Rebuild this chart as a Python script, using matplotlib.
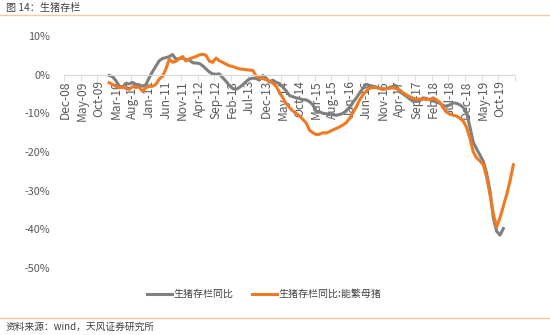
import numpy as np
import matplotlib
matplotlib.use("Agg")
import matplotlib.pyplot as plt
from matplotlib.lines import Line2D

plt.rcParams['font.family'] = ['Noto Sans CJK SC', 'DejaVu Sans']

# monthly axis starts at Dec-08 (index 0); both series start at Jan-10
tick_labels = ['Dec-08', 'May-09', 'Oct-09', 'Mar-10', 'Aug-10', 'Jan-11', 'Jun-11',
               'Nov-11', 'Apr-12', 'Sep-12', 'Feb-13', 'Jul-13', 'Dec-13', 'May-14',
               'Oct-14', 'Mar-15', 'Aug-15', 'Jan-16', 'Jun-16', 'Nov-16', 'Apr-17',
               'Sep-17', 'Feb-18', 'Jul-18', 'Dec-18', 'May-19', 'Oct-19']
n_months = 135
series_start = 13

hog_yoy = [-0.2, -0.5, -1.5, -2.9, -3.3, -2.2, -2.4, -2.0, -2.5, -2.6, -3.0, -2.6,
           -0.8, 0.8, 2.2, 3.6, 4.2, 4.4, 4.7, 5.2, 4.0, 4.2, 4.3, 3.9,
           3.8, 3.1, 3.0, 2.9, 2.3, 1.5, 0.7, 0.2, 0.1, 0.2, -0.8, -1.7,
           -2.8, -3.6, -3.8, -3.3, -2.6, -1.8, -1.1, -0.9, -1.0, -1.4, -0.2, -0.9,
           -1.9, -1.4, -2.0, -2.3, -3.2, -4.2, -5.4, -5.7, -6.0, -6.2, -6.5, -6.5,
           -7.0, -7.8, -9.6, -9.6, -10.0, -10.1, -10.3, -10.4, -10.5, -10.3, -10.0, -9.3,
           -8.4, -7.2, -6.0, -4.7, -3.5, -2.5, -2.8, -3.0, -3.2, -3.5, -3.8, -3.6,
           -3.3, -3.0, -3.0, -4.4, -5.0, -5.6, -6.3, -6.9, -6.9, -6.8, -6.0, -6.2,
           -6.5, -6.8, -7.1, -7.4, -8.0, -8.2, -7.8, -7.3, -7.4, -7.8, -8.5, -9.8,
           -13.5, -17.5, -19.2, -20.8, -22.4, -25.5, -30.0, -37.0, -40.5, -41.5, -39.8]

sow_yoy = [-2.1, -2.5, -3.0, -3.4, -3.0, -3.6, -3.8, -3.1, -3.3, -3.2, -4.3, -3.4,
           -3.0, -3.0, -2.5, -1.1, -0.4, 1.5, 4.0, 3.2, 3.5, 4.1, 4.7, 3.5,
           4.1, 4.4, 4.7, 5.1, 5.3, 5.0, 3.5, 3.2, 4.3, 3.6, 3.2, 2.7,
           2.3, 2.1, 1.8, 1.5, 1.4, 1.3, 1.2, 1.1, -0.3, -0.8, -1.0, -1.3,
           -1.6, -2.2, -3.0, -4.6, -6.0, -7.5, -8.5, -9.4, -10.0, -10.7, -11.6, -12.5,
           -14.4, -15.0, -15.5, -15.4, -15.0, -15.1, -14.7, -14.3, -13.9, -13.5, -13.0, -12.4,
           -11.3, -9.8, -8.3, -6.5, -5.2, -4.2, -3.5, -3.3, -3.4, -3.6, -3.7, -3.6,
           -3.5, -3.4, -3.6, -4.0, -4.7, -5.2, -5.7, -6.1, -6.3, -6.3, -6.3, -6.4,
           -6.4, -6.0, -6.5, -7.2, -8.6, -9.7, -10.2, -10.5, -10.7, -11.3, -12.0, -13.6,
           -16.5, -20.0, -21.5, -22.3, -23.3, -26.5, -31.0, -36.0, -39.4, -37.0, -34.0, -31.0,
           -27.5, -23.3]

fig = plt.figure(figsize=(5.5, 3.35), dpi=100)
ax = fig.add_axes([0.1164, 0.2, 0.8200, 0.6925])

x_hog = np.arange(series_start, series_start + len(hog_yoy))
x_sow = np.arange(series_start, series_start + len(sow_yoy))
ax.plot(x_hog, hog_yoy, color='#7f7f7f', lw=2.2, solid_joinstyle='round', label='生猪存栏同比')
ax.plot(x_sow, sow_yoy, color='#f07a22', lw=2.2, solid_joinstyle='round', label='生猪存栏同比:能繁母猪')

ax.set_xlim(-0.5, n_months - 0.5)
ax.set_ylim(-50, 10)
ax.set_yticks(np.arange(-50, 11, 10))
ax.set_yticklabels([f'{v}%' for v in range(-50, 11, 10)])

# category axis drawn along the 0% line
for s in ['top', 'right', 'left']:
    ax.spines[s].set_visible(False)
ax.spines['bottom'].set_position(('data', 0))
ax.spines['bottom'].set_color('#d9d9d9')
ax.set_xticks(np.arange(0, n_months, 5))
ax.set_xticklabels(tick_labels, rotation=90, fontsize=8.6, color='#595959')
ax.set_xticks(np.arange(-0.5, n_months, 5), minor=True)
ax.tick_params(axis='x', which='major', length=0, pad=4)
ax.tick_params(axis='x', which='minor', length=4, color='#d9d9d9', direction='out')
ax.tick_params(axis='y', length=0, labelsize=7.8, labelcolor='#595959', pad=10)

fig.legend(loc='center', bbox_to_anchor=(0.48, 0.122), ncol=2, frameon=False,
           fontsize=7.2, handlelength=2.5, handletextpad=0.2, columnspacing=1.8,
           labelcolor='#404040')

fig.text(0.01, 0.976, '图 14：生猪存栏', fontsize=7.3, fontweight='medium',
         color='#404040', va='center', ha='left')
fig.add_artist(Line2D([0, 1], [0.955, 0.955], transform=fig.transFigure,
                      color='#f9c99b', lw=1))
fig.add_artist(Line2D([0, 1], [0.051, 0.051], transform=fig.transFigure,
                      color='#f9c99b', lw=1))
fig.text(0.01, 0.024, '资料来源：wind，天风证券研究所', fontsize=7,
         color='#404040', va='center', ha='left')

fig.savefig('out.png', dpi=100)
